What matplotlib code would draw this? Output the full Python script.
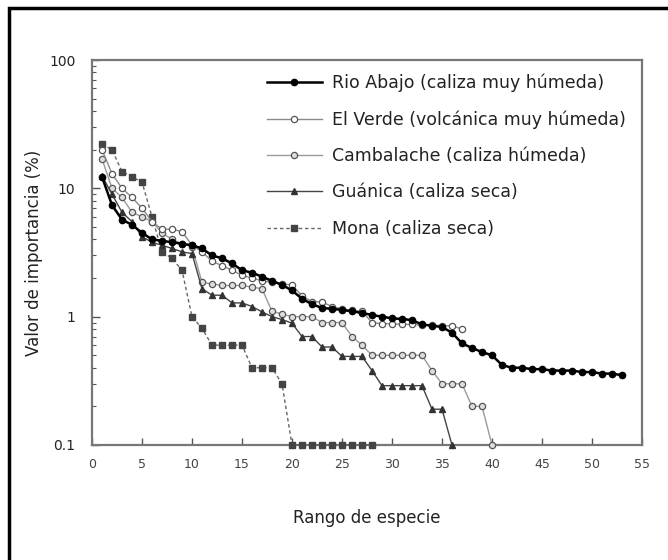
import matplotlib
matplotlib.use("Agg")
import matplotlib.pyplot as plt
from matplotlib.patches import Rectangle
from matplotlib.ticker import FixedLocator, FixedFormatter, LogLocator, NullFormatter

# Datos (valor de importancia, %)
rio_abajo = [12.3, 7.4, 5.7, 5.2, 4.5, 4.0, 3.9, 3.8, 3.7, 3.6,
             3.4, 3.0, 2.85, 2.6, 2.3, 2.2, 2.05, 1.9, 1.77, 1.6,
             1.38, 1.25, 1.17, 1.15, 1.13, 1.1, 1.07, 1.03, 1.0, 0.97,
             0.96, 0.94, 0.87, 0.85, 0.83, 0.75, 0.62, 0.57, 0.53, 0.5,
             0.42, 0.40, 0.40, 0.39, 0.39, 0.38, 0.38, 0.38, 0.37, 0.37,
             0.36, 0.36, 0.35]
el_verde = [20, 13, 10, 8.5, 7, 5.5, 4.8, 4.8, 4.6, 3.6,
            3.2, 2.7, 2.5, 2.3, 2.1, 2.0, 1.9, 1.85, 1.8, 1.77,
            1.45, 1.31, 1.3, 1.2, 1.15, 1.12, 1.1, 0.9, 0.88, 0.88,
            0.87, 0.87, 0.86, 0.86, 0.85, 0.85, 0.8]
cambalache = [17, 10, 8.5, 6.5, 6, 5.5, 4.5, 4.0, 3.7, 3.5,
              1.85, 1.8, 1.75, 1.75, 1.75, 1.7, 1.65, 1.1, 1.05, 1.0,
              1.0, 1.0, 0.9, 0.9, 0.9, 0.7, 0.6, 0.5, 0.5, 0.5,
              0.5, 0.5, 0.5, 0.38, 0.3, 0.3, 0.3, 0.2, 0.2, 0.1]
guanica = [12.5, 9, 6.5, 5.5, 4.2, 3.8, 3.6, 3.4, 3.2, 3.1,
           1.65, 1.47, 1.47, 1.28, 1.28, 1.2, 1.09, 1.0, 0.95, 0.89,
           0.7, 0.7, 0.58, 0.58, 0.49, 0.49, 0.49, 0.38, 0.29, 0.29,
           0.29, 0.29, 0.29, 0.19, 0.19, 0.1]
mona = [22, 20, 13.5, 12.3, 11.2, 6, 3.2, 2.85, 2.3, 1.0,
        0.81, 0.6, 0.6, 0.6, 0.6, 0.4, 0.4, 0.4, 0.3, 0.1,
        0.1, 0.1, 0.1, 0.1, 0.1, 0.1, 0.1, 0.1]

etiquetas = ['Rio Abajo (caliza muy húmeda)',
             'El Verde (volcánica muy húmeda)',
             'Cambalache (caliza húmeda)',
             'Guánica (caliza seca)',
             'Mona (caliza seca)']

fig = plt.figure(figsize=(6.68, 5.6), dpi=100)
ax = fig.add_axes([92/668, 1-445/560, 550/668, 385/560])

# marco exterior (solo se ven los bordes izquierdo y superior)
fig.patches.append(Rectangle((9/668, -0.2), 1.2, 1.2 - 8/560,
                             transform=fig.transFigure, fill=False,
                             edgecolor='black', lw=2.5, clip_on=False))

def rango(v):
    return list(range(1, len(v) + 1))

ax.plot(rango(rio_abajo), rio_abajo, '-', color='black', lw=1.8,
        marker='o', ms=4.5, mfc='black', mec='black', label=etiquetas[0], clip_on=False, zorder=6)
ax.plot(rango(el_verde), el_verde, '-', color='#8a8a8a', lw=1.0,
        marker='o', ms=4.5, mfc='white', mec='#555555', mew=0.9, label=etiquetas[1], clip_on=False, zorder=5)
ax.plot(rango(cambalache), cambalache, '-', color='#9a9a9a', lw=1.0,
        marker='o', ms=4.5, mfc='#dddddd', mec='#555555', mew=0.9, label=etiquetas[2], clip_on=False, zorder=4)
ax.plot(rango(guanica), guanica, '-', color='#444444', lw=1.0,
        marker='^', ms=4.5, mfc='#333333', mec='#333333', label=etiquetas[3], clip_on=False, zorder=4)
ax.plot(rango(mona), mona, '--', color='#666666', lw=1.0, dashes=(2.5, 2),
        marker='s', ms=3.8, mfc='#444444', mec='#444444', label=etiquetas[4], clip_on=False, zorder=3)

ax.set_yscale('log')
ax.set_xlim(0, 55)
ax.set_ylim(0.1, 100)

ax.xaxis.set_major_locator(FixedLocator(list(range(0, 56, 5))))
ax.yaxis.set_major_locator(FixedLocator([0.1, 1, 10, 100]))
ax.yaxis.set_major_formatter(FixedFormatter(['0.1', '1', '10', '100']))
ax.yaxis.set_minor_locator(LogLocator(base=10, subs=range(2, 10)))
ax.yaxis.set_minor_formatter(NullFormatter())

ax.tick_params(axis='both', which='both', direction='in', color='#555555')
ax.tick_params(axis='x', which='major', length=5, width=1, labelsize=9,
               labelcolor='#444444', pad=9)
ax.tick_params(axis='y', which='major', length=6, width=1, labelsize=10,
               labelcolor='#222222', pad=12)
ax.tick_params(axis='y', which='minor', length=3, width=0.8)
for s in ax.spines.values():
    s.set_color('#777777')
    s.set_linewidth(1.6)

ax.set_xlabel('Rango de especie', fontsize=12, color='#222222', labelpad=28)
ax.set_ylabel('Valor de importancia (%)', fontsize=12, color='#222222', labelpad=4)

ax.legend(loc='upper right', bbox_to_anchor=(1.0, 1.005), frameon=False,
          fontsize=12.5, handlelength=3.2, labelspacing=1.05, handletextpad=0.6,
          labelcolor='#222222')

fig.savefig('out.png', dpi=100)
